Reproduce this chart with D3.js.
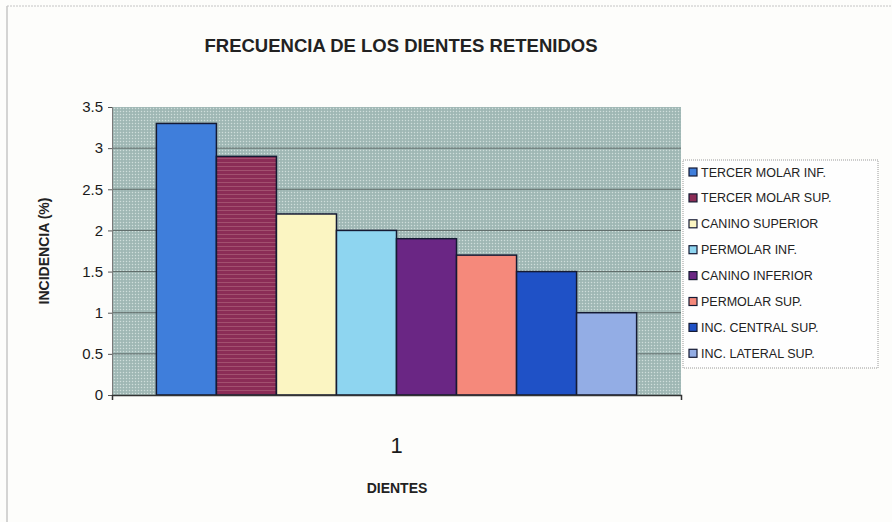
<!DOCTYPE html>
<html>
<head>
<meta charset="utf-8">
<script src="https://cdn.jsdelivr.net/npm/d3@7"></script>
<style>
  html, body { margin: 0; background: #fdfdfb; overflow: hidden; }
  svg { display: block; font-family: "Liberation Sans", Arial, sans-serif; }
</style>
</head>
<body>
<div id="chart"></div>
<script>
// data
const categories = ["1"];
const seriesNames = [
  "TERCER MOLAR INF.",
  "TERCER MOLAR SUP.",
  "CANINO SUPERIOR",
  "PERMOLAR INF.",
  "CANINO INFERIOR",
  "PERMOLAR SUP.",
  "INC. CENTRAL SUP.",
  "INC. LATERAL SUP."
];
const seriesValues = [3.3, 2.9, 2.2, 2.0, 1.9, 1.7, 1.5, 1.0];
const seriesColors = ["#3f7edb", "#8b2c56", "#fbf5c2", "#8ed5f0", "#6a2684", "#f5897b", "#1f51c6", "#93ade5"];
const yTicks = [0, 0.5, 1, 1.5, 2, 2.5, 3, 3.5];

const width = 892, height = 522;
const plot = { left: 112, right: 681, top: 107, bottom: 395 };

const svg = d3.select("#chart").append("svg")
    .attr("width", width)
    .attr("height", height);

// dotted texture for the plot background
const defs = svg.append("defs");
const pat = defs.append("pattern")
    .attr("id", "dots")
    .attr("width", 3).attr("height", 3)
    .attr("patternUnits", "userSpaceOnUse");
pat.append("rect").attr("width", 3).attr("height", 3).attr("fill", "#a6bdba");
pat.append("rect").attr("x", 0).attr("y", 0).attr("width", 1).attr("height", 1).attr("fill", "#d0dedb");
pat.append("rect").attr("x", 1.5).attr("y", 1.5).attr("width", 1).attr("height", 1).attr("fill", "#8ba4a1");

// horizontal stripes for the maroon bar
const stripes = defs.append("pattern")
    .attr("id", "stripes")
    .attr("width", 6).attr("height", 4)
    .attr("patternUnits", "userSpaceOnUse");
stripes.append("rect").attr("width", 6).attr("height", 4).attr("fill", seriesColors[1]);
stripes.append("rect").attr("y", 2).attr("width", 6).attr("height", 1).attr("fill", "#a2506f");

// chart frame (only left/top edges visible in the photo)
svg.append("line")
    .attr("x1", 7).attr("x2", 7).attr("y1", 6).attr("y2", height)
    .attr("stroke", "#b9b9b9").attr("stroke-width", 1.2);
svg.append("line")
    .attr("x1", 7).attr("x2", width).attr("y1", 6).attr("y2", 6)
    .attr("stroke", "#c4c4c4").attr("stroke-width", 1)
    .attr("stroke-dasharray", "2,1");

// scales
const x0 = d3.scaleBand()
    .domain(categories)
    .range([plot.left, plot.right])
    .paddingInner(0.156)
    .paddingOuter(0.078);

const x1 = d3.scaleBand()
    .domain(seriesNames)
    .range([0, x0.bandwidth()]);

const y = d3.scaleLinear()
    .domain([0, 3.5])
    .range([plot.bottom, plot.top]);

// plot area
svg.append("rect")
    .attr("x", plot.left).attr("y", plot.top)
    .attr("width", plot.right - plot.left)
    .attr("height", plot.bottom - plot.top)
    .attr("fill", "url(#dots)");

// gridlines
svg.append("g")
    .selectAll("line")
    .data(yTicks.filter(d => d > 0 && d < 3.5))
    .join("line")
    .attr("x1", plot.left).attr("x2", plot.right)
    .attr("y1", d => y(d)).attr("y2", d => y(d))
    .attr("stroke", "#5e6a68")
    .attr("stroke-width", 1);

// y axis
const yAxis = svg.append("g")
    .attr("transform", `translate(${plot.left},0)`)
    .call(d3.axisLeft(y).tickValues(yTicks).tickSize(4).tickPadding(5).tickFormat(d => d));
yAxis.select(".domain").attr("stroke", "#7a7a7a");
yAxis.selectAll(".tick line").attr("stroke", "#555");
yAxis.selectAll("text")
    .attr("fill", "#1a1a1a")
    .style("font-size", "15px");

// bars
const groups = svg.append("g")
    .selectAll("g")
    .data(categories)
    .join("g")
    .attr("transform", d => `translate(${x0(d)},0)`);

groups.selectAll("rect")
    .data(seriesNames.map((name, i) => ({ name, value: seriesValues[i], i })))
    .join("rect")
    .attr("x", d => x1(d.name))
    .attr("y", d => y(d.value))
    .attr("width", x1.bandwidth())
    .attr("height", d => y(0) - y(d.value))
    .attr("fill", d => d.i === 1 ? "url(#stripes)" : seriesColors[d.i])
    .attr("stroke", "#151a33")
    .attr("stroke-width", 1.5);

// x axis
const xAxis = svg.append("g")
    .attr("transform", `translate(0,${plot.bottom})`)
    .call(d3.axisBottom(x0).tickSize(0).tickPadding(42).tickSizeOuter(5));
xAxis.select(".domain").attr("stroke", "#333").attr("stroke-width", 1.5);
xAxis.selectAll("text")
    .attr("fill", "#1a1a1a")
    .style("font-size", "22px");

// titles
svg.append("text")
    .attr("x", 401).attr("y", 52)
    .attr("text-anchor", "middle")
    .attr("textLength", 393)
    .attr("lengthAdjust", "spacingAndGlyphs")
    .style("font-size", "19px")
    .style("font-weight", "bold")
    .attr("fill", "#222")
    .text("FRECUENCIA DE LOS DIENTES RETENIDOS");

svg.append("text")
    .attr("x", 397).attr("y", 493)
    .attr("text-anchor", "middle")
    .style("font-size", "14px")
    .style("font-weight", "bold")
    .attr("fill", "#222")
    .text("DIENTES");

svg.append("text")
    .attr("transform", `translate(49,${(plot.top + plot.bottom) / 2}) rotate(-90)`)
    .attr("text-anchor", "middle")
    .style("font-size", "14px")
    .style("font-weight", "bold")
    .attr("fill", "#222")
    .text("INCIDENCIA (%)");

// legend
const legend = { x: 683, y: 160, w: 195, h: 208 };
svg.append("rect")
    .attr("x", legend.x).attr("y", legend.y)
    .attr("width", legend.w).attr("height", legend.h)
    .attr("fill", "#fefefe")
    .attr("stroke", "#9a9a9a")
    .attr("stroke-dasharray", "1,1");

const rowH = 25.9;
const items = svg.append("g")
    .selectAll("g")
    .data(seriesNames)
    .join("g")
    .attr("transform", (d, i) => `translate(${legend.x + 6},${legend.y + 12 + i * rowH})`);

items.append("rect")
    .attr("x", 0).attr("y", -4)
    .attr("width", 8).attr("height", 8)
    .attr("fill", (d, i) => seriesColors[i])
    .attr("stroke", "#151a33")
    .attr("stroke-width", 1.2);

items.append("text")
    .attr("x", 12).attr("y", 0)
    .attr("dy", "0.36em")
    .style("font-size", "12.5px")
    .attr("fill", "#222")
    .text(d => d);
</script>
</body>
</html>
